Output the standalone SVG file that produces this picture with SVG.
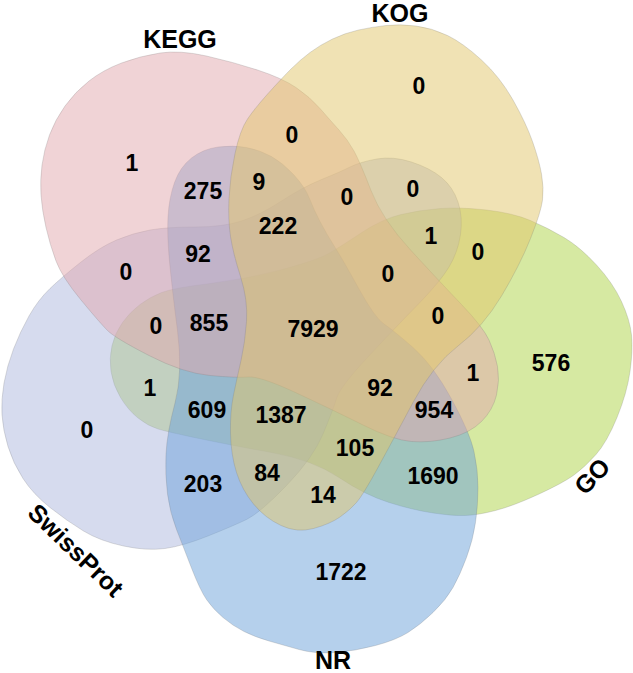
<svg xmlns="http://www.w3.org/2000/svg" width="633" height="673" viewBox="0 0 633 673">
<style>
.set{fill-opacity:0.5;stroke:#7a7a7a;stroke-opacity:0.3;stroke-width:0.8}
.n{font-family:"Liberation Sans",Arial,sans-serif;font-weight:bold;font-size:23px;text-anchor:middle;fill:#000}
.lab{font-family:"Liberation Sans",Arial,sans-serif;font-weight:bold;font-size:25px;text-anchor:middle;fill:#000}
</style>
<rect width="633" height="673" fill="#fff"/>
<g id="set-go">
<path class="set" fill="#add345" d="M161.5,292.5 Q173,288 210,283.5 Q247,279 282,269.5 Q317,260 328.5,253.5 Q340,247 361,233 Q382,219 401,214.5 Q420,210 440,208.5 Q460,207 486.5,210 Q513,213 530.5,220.5 Q548,228 564,237.5 Q580,247 596.5,265 Q613,283 621.5,301.5 Q630,320 631.5,335 Q633,350 630,371.5 Q627,393 617,417.5 Q607,442 596,454.5 Q585,467 574,475 Q563,483 538,494.5 Q513,506 495.5,510.5 Q478,515 465.5,515.5 Q453,516 433,513 Q413,510 389,502.5 Q365,495 339,477.5 Q313,460 271.5,452.5 Q230,445 199,438.5 Q168,432 158,429 Q148,426 138,418 Q128,410 120.5,397.5 Q113,385 111,371.5 Q109,358 112,345.5 Q115,333 122.5,322.5 Q130,312 140,304.5 Q150,297 161.5,292.5 Z"/>
<text class="lab" transform="translate(592,476) rotate(-47)" y="9">GO</text>
</g>
<g id="set-swissprot">
<path class="set" fill="#adb7dd" d="M50,288.5 Q62,277 81,262 Q100,247 116.5,240 Q133,233 150,230 Q167,227 195,227 Q223,227 241.5,221 Q260,215 281.5,201 Q303,187 321.5,179.5 Q340,172 350,167 Q360,162 376.5,159 Q393,156 411.5,162 Q430,168 441.5,177.5 Q453,187 458,202 Q463,217 460.5,234.5 Q458,252 449,267 Q440,282 416.5,306 Q393,330 366.5,358.5 Q340,387 336.5,398.5 Q333,410 323,434 Q313,458 286.5,485.5 Q260,513 246.5,519.5 Q233,526 208,536 Q183,546 165,548.5 Q147,551 123.5,546 Q100,541 83.5,531 Q67,521 50,507.5 Q33,494 23,478.5 Q13,463 8,446.5 Q3,430 2,415 Q1,400 4,383 Q7,366 13.5,349 Q20,332 29,316 Q38,300 50,288.5 Z"/>
<text class="lab" transform="translate(76,550) rotate(44)" y="9">SwissProt</text>
</g>
<g id="set-nr">
<path class="set" fill="#6ba1d9" d="M218,147 Q233,145 246.5,147.5 Q260,150 271.5,156.5 Q283,163 294,175 Q305,187 309.5,198.5 Q314,210 320,221.5 Q326,233 334.5,246.5 Q343,260 359,289 Q375,318 384,324 Q393,330 413,347.5 Q433,365 451.5,399 Q470,433 474,451.5 Q478,470 478,487.5 Q478,505 475.5,522.5 Q473,540 466.5,557.5 Q460,575 453,587.5 Q446,600 433,612.5 Q420,625 408,632.5 Q396,640 375.5,645.5 Q355,651 335,652.5 Q315,654 299,649.5 Q283,645 269,641 Q255,637 244,631.5 Q233,626 223,617.5 Q213,609 206.5,599.5 Q200,590 191.5,568 Q183,546 176.5,529.5 Q170,513 167.5,494 Q165,475 166,454 Q167,433 175,403 Q183,373 177.5,330.5 Q172,288 169.5,261.5 Q167,235 168,216.5 Q169,198 174.5,182.5 Q180,167 191.5,158 Q203,149 218,147 Z"/>
<text class="lab" x="333" y="669">NR</text>
</g>
<g id="set-kegg">
<path class="set" fill="#e1a7ad" d="M160,53 Q180,50 206.5,56 Q233,62 257.5,70 Q282,78 296,87.5 Q310,97 320,108.5 Q330,120 339,130 Q348,140 354,151 Q360,162 371,190.5 Q382,219 411,250.5 Q440,282 461.5,304.5 Q483,327 489,340 Q495,353 497.5,366.5 Q500,380 496.5,395 Q493,410 481.5,421.5 Q470,433 450,438 Q430,443 411.5,441.5 Q393,440 363,425 Q333,410 296.5,393 Q260,376 248.5,377 Q237,378 210,375.5 Q183,373 149,355.5 Q115,338 107.5,330.5 Q100,323 81,300 Q62,277 56,261 Q50,245 46,227.5 Q42,210 41,195 Q40,180 42,165 Q44,150 49.5,135 Q55,120 65,106 Q75,92 89,81 Q103,70 121.5,63 Q140,56 160,53 Z"/>
<text class="lab" x="180" y="48">KEGG</text>
</g>
<g id="set-kog">
<path class="set" fill="#e1c569" d="M386,25.5 Q400,24 416,26 Q432,28 447.5,35.5 Q463,43 481.5,60 Q500,77 513,100 Q526,123 532.5,141.5 Q539,160 541.5,174 Q544,188 542.5,200 Q541,212 530.5,238.5 Q520,265 501.5,296 Q483,327 458,346 Q433,365 413,402.5 Q393,440 378,467.5 Q363,495 356.5,502.5 Q350,510 340,517 Q330,524 313.5,528.5 Q297,533 281,525.5 Q265,518 253.5,504 Q242,490 236.5,472.5 Q231,455 230.5,433.5 Q230,412 233.5,395 Q237,378 241,360.5 Q245,343 246.5,321.5 Q248,300 240.5,276.5 Q233,253 230.5,236.5 Q228,220 229,198.5 Q230,177 235,153.5 Q240,130 247.5,119 Q255,108 268.5,93 Q282,78 291,69 Q300,60 310,52.5 Q320,45 332.5,39 Q345,33 358.5,30 Q372,27 386,25.5 Z"/>
<text class="lab" x="400" y="22">KOG</text>
</g>
<g id="counts">
<text class="n" x="132" y="171">1</text>
<text class="n" x="419" y="94">0</text>
<text class="n" x="551" y="371">576</text>
<text class="n" x="341" y="580">1722</text>
<text class="n" x="87" y="438">0</text>
<text class="n" x="292" y="143">0</text>
<text class="n" x="203" y="199">275</text>
<text class="n" x="259" y="190">9</text>
<text class="n" x="278" y="234">222</text>
<text class="n" x="347" y="205">0</text>
<text class="n" x="413" y="197">0</text>
<text class="n" x="431" y="244">1</text>
<text class="n" x="478" y="260">0</text>
<text class="n" x="388" y="282">0</text>
<text class="n" x="438" y="324">0</text>
<text class="n" x="473" y="381">1</text>
<text class="n" x="198" y="262">92</text>
<text class="n" x="126" y="280">0</text>
<text class="n" x="156" y="334">0</text>
<text class="n" x="209" y="331">855</text>
<text class="n" x="313" y="337">7929</text>
<text class="n" x="150" y="396">1</text>
<text class="n" x="207" y="418">609</text>
<text class="n" x="281" y="423">1387</text>
<text class="n" x="380" y="396">92</text>
<text class="n" x="434" y="418">954</text>
<text class="n" x="355" y="456">105</text>
<text class="n" x="433" y="484">1690</text>
<text class="n" x="203" y="492">203</text>
<text class="n" x="267" y="481">84</text>
<text class="n" x="323" y="503">14</text>
</g>
</svg>
